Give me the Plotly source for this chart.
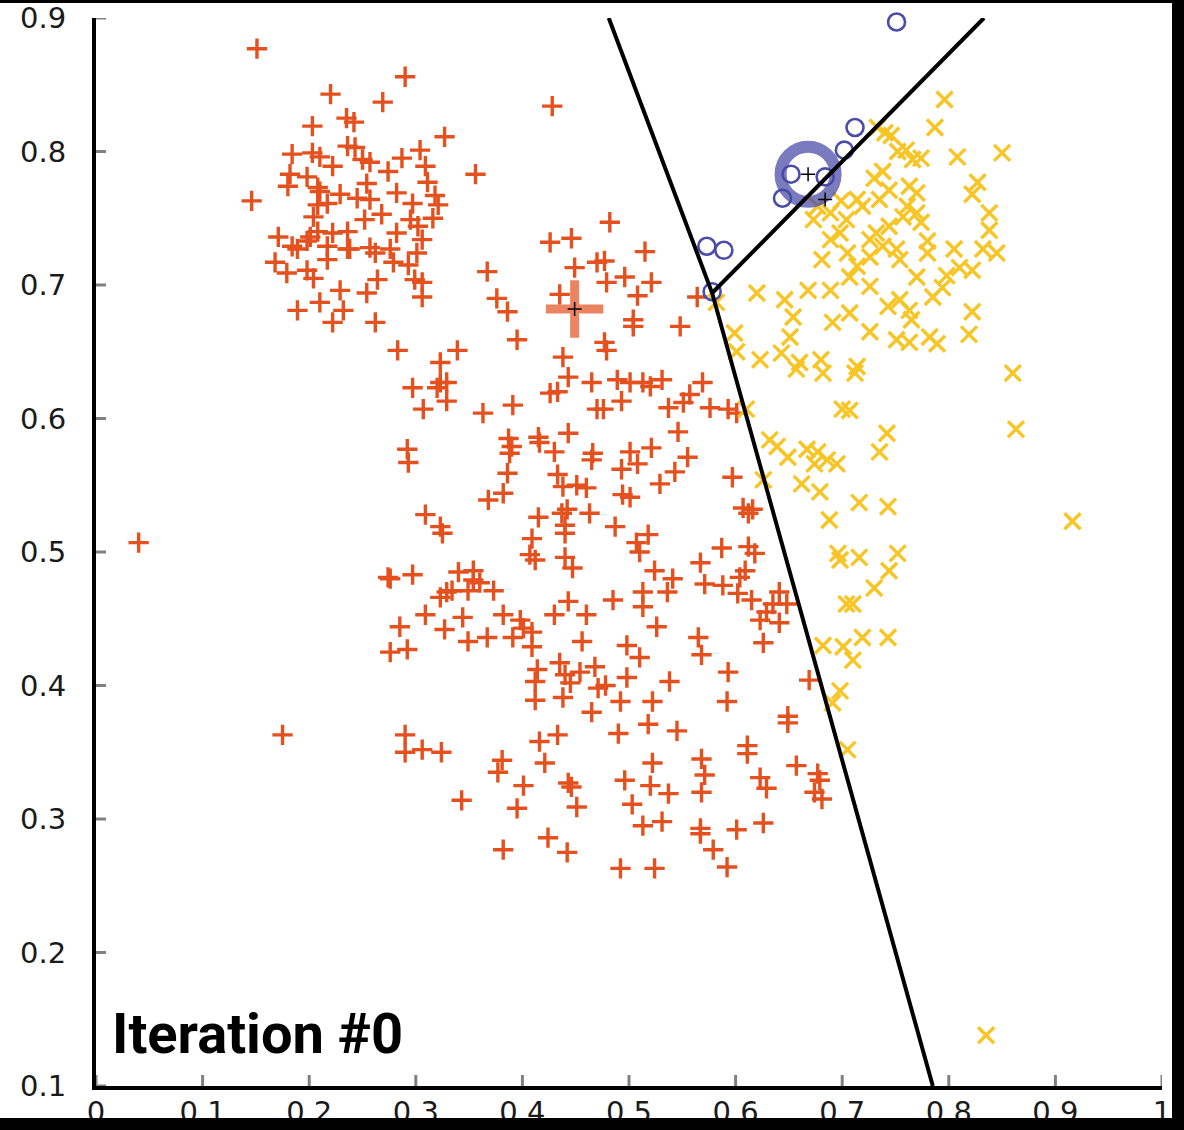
import plotly.graph_objects as go

# ---------------- data ----------------
orange_points = [
    (0.151,0.877),(0.220,0.843),(0.235,0.825),(0.203,0.819),(0.184,0.798),(0.203,0.799),(0.210,0.796),(0.222,0.789),(0.236,0.804),(0.182,0.783),
    (0.180,0.774),(0.198,0.781),(0.208,0.773),(0.210,0.770),(0.229,0.768),(0.146,0.763),(0.204,0.751),(0.208,0.760),(0.217,0.761),(0.208,0.740),
    (0.201,0.736),(0.222,0.739),(0.236,0.740),(0.171,0.736),(0.184,0.729),(0.189,0.727),(0.198,0.733),(0.217,0.729),(0.217,0.719),(0.236,0.727),
    (0.168,0.717),(0.179,0.709),(0.198,0.711),(0.204,0.705),(0.229,0.696),(0.210,0.687),(0.232,0.681),(0.189,0.681),(0.222,0.672),
    (0.290,0.856),(0.269,0.837),(0.242,0.822),(0.327,0.811),(0.356,0.783),(0.428,0.834),(0.243,0.803),(0.250,0.794),(0.257,0.792),(0.274,0.785),
    (0.287,0.795),(0.304,0.801),(0.309,0.789),(0.311,0.777),(0.254,0.776),(0.245,0.765),(0.257,0.764),(0.282,0.769),(0.297,0.761),(0.318,0.767),
    (0.321,0.760),(0.268,0.753),(0.252,0.749),(0.295,0.749),(0.316,0.750),(0.282,0.739),(0.302,0.744),(0.306,0.734),(0.238,0.727),(0.257,0.728),
    (0.262,0.724),(0.276,0.727),(0.279,0.717),(0.301,0.724),(0.293,0.715),(0.299,0.704),(0.306,0.702),(0.264,0.704),(0.254,0.694),(0.306,0.691),
    (0.262,0.672),(0.283,0.651),(0.339,0.651),(0.323,0.642),(0.367,0.710),(0.376,0.690),(0.386,0.680),(0.395,0.659),(0.426,0.732),(0.446,0.735),
    (0.449,0.713),(0.470,0.717),(0.435,0.693),(0.438,0.646),
    (0.482,0.747),(0.515,0.725),(0.477,0.718),(0.496,0.706),(0.479,0.702),(0.521,0.702),(0.508,0.692),(0.564,0.691),(0.504,0.674),(0.504,0.669),
    (0.548,0.669),(0.477,0.657),(0.479,0.651),
    (0.489,0.629),(0.501,0.627),(0.513,0.627),(0.520,0.624),(0.531,0.629),(0.569,0.627),(0.493,0.613),(0.476,0.607),(0.537,0.608),(0.551,0.612),
    (0.557,0.618),(0.576,0.608),(0.593,0.607),(0.601,0.604),(0.546,0.590),(0.501,0.575),(0.521,0.578),(0.555,0.571),(0.508,0.566),(0.493,0.562),
    (0.543,0.560),(0.529,0.551),(0.597,0.556),(0.494,0.543),(0.501,0.541),(0.607,0.533),(0.616,0.532),(0.612,0.529),(0.487,0.519),(0.518,0.513),
    (0.507,0.507),(0.510,0.500),(0.587,0.503),(0.612,0.504),(0.618,0.499),(0.567,0.492),(0.524,0.486),(0.541,0.480),(0.609,0.486),(0.604,0.481),
    (0.571,0.476),(0.588,0.475),(0.513,0.470),(0.536,0.470),(0.602,0.469),(0.615,0.464),(0.485,0.464),(0.513,0.459),(0.641,0.470),(0.635,0.461),
    (0.648,0.461),(0.629,0.455),(0.641,0.447),(0.623,0.449),(0.526,0.444),(0.626,0.432),(0.565,0.436),(0.568,0.423),(0.498,0.430),(0.510,0.421),
    (0.593,0.410),(0.538,0.403),(0.498,0.406),(0.478,0.400),(0.669,0.404),(0.522,0.388),(0.492,0.388),(0.592,0.388),(0.649,0.377),
    (0.297,0.623),(0.323,0.627),(0.329,0.627),(0.320,0.623),(0.329,0.613),(0.307,0.607),(0.363,0.604),(0.391,0.610),(0.426,0.619),(0.433,0.620),
    (0.443,0.631),(0.465,0.627),(0.470,0.607),(0.292,0.577),(0.293,0.567),(0.387,0.585),(0.390,0.579),(0.388,0.574),(0.415,0.586),(0.416,0.582),
    (0.443,0.589),(0.430,0.575),(0.466,0.574),(0.465,0.569),(0.386,0.559),(0.382,0.544),(0.368,0.539),(0.433,0.558),(0.438,0.549),(0.451,0.550),
    (0.460,0.548),(0.309,0.528),(0.323,0.519),(0.325,0.514),(0.415,0.526),(0.437,0.529),(0.442,0.532),(0.440,0.520),(0.463,0.529),(0.440,0.514),
    (0.409,0.510),(0.407,0.498),(0.412,0.494),(0.440,0.496),(0.447,0.488),(0.274,0.481),(0.276,0.480),(0.297,0.483),(0.340,0.485),(0.354,0.486),
    (0.354,0.479),(0.360,0.477),(0.329,0.470),(0.323,0.466),(0.334,0.471),(0.349,0.471),(0.373,0.471),(0.309,0.453),(0.344,0.451),(0.382,0.453),
    (0.398,0.449),(0.401,0.443),(0.409,0.440),(0.285,0.444),(0.327,0.442),(0.349,0.433),(0.367,0.436),(0.391,0.436),(0.409,0.429),(0.276,0.425),
    (0.292,0.427),(0.443,0.463),(0.430,0.453),(0.460,0.453),(0.456,0.433),(0.414,0.412),(0.435,0.417),(0.440,0.408),(0.454,0.410),(0.468,0.414),
    (0.412,0.403),(0.445,0.402),(0.471,0.398),(0.412,0.389),(0.438,0.391),(0.465,0.380),
    (0.290,0.363),(0.290,0.350),(0.306,0.352),(0.324,0.350),(0.343,0.314),(0.381,0.344),(0.377,0.335),(0.401,0.325),(0.395,0.308),(0.416,0.358),
    (0.433,0.363),(0.421,0.342),(0.443,0.327),(0.446,0.324),(0.451,0.309),(0.382,0.277),(0.424,0.286),(0.442,0.275),
    (0.490,0.364),(0.518,0.371),(0.545,0.366),(0.649,0.372),(0.522,0.342),(0.568,0.345),(0.571,0.333),(0.496,0.329),(0.520,0.325),(0.537,0.319),
    (0.568,0.320),(0.503,0.311),(0.513,0.295),(0.531,0.298),(0.567,0.293),(0.567,0.289),(0.601,0.292),(0.626,0.297),(0.579,0.277),(0.592,0.264),
    (0.492,0.263),(0.524,0.263),(0.611,0.355),(0.611,0.349),(0.623,0.331),(0.629,0.323),(0.657,0.340),(0.677,0.334),(0.679,0.329),(0.674,0.320),
    (0.681,0.315),
    (0.175,0.363),(0.040,0.507),
]

yellow_points = [
    (0.620,0.694),(0.646,0.689),(0.668,0.696),(0.689,0.696),(0.599,0.664),(0.654,0.676),(0.651,0.661),(0.691,0.672),(0.601,0.650),(0.623,0.644),
    (0.643,0.649),(0.660,0.642),(0.680,0.644),(0.582,0.687),(0.673,0.749),(0.689,0.754),(0.698,0.739),(0.689,0.734),(0.681,0.719),(0.705,0.724),
    (0.677,0.759),(0.699,0.763),(0.704,0.749),
    (0.796,0.839),(0.787,0.818),(0.850,0.799),(0.808,0.796),(0.760,0.801),(0.766,0.794),(0.740,0.814),(0.733,0.818),(0.746,0.812),(0.827,0.777),
    (0.822,0.768),(0.838,0.754),(0.838,0.741),(0.845,0.724),(0.832,0.727),(0.805,0.727),(0.780,0.733),(0.780,0.724),(0.810,0.713),(0.798,0.707),
    (0.822,0.711),(0.763,0.774),(0.770,0.769),(0.744,0.771),(0.730,0.780),(0.738,0.785),(0.714,0.764),(0.719,0.759),(0.735,0.764),(0.761,0.759),
    (0.770,0.754),(0.774,0.747),(0.757,0.751),(0.744,0.744),(0.732,0.739),(0.726,0.734),(0.738,0.729),(0.751,0.727),(0.754,0.719),(0.726,0.721),
    (0.714,0.714),(0.770,0.706),(0.785,0.691),(0.794,0.698),(0.754,0.689),(0.743,0.684),(0.763,0.681),(0.765,0.674),(0.726,0.699),(0.726,0.665),
    (0.751,0.659),(0.763,0.657),(0.782,0.661),(0.789,0.656),(0.822,0.680),(0.819,0.663),(0.707,0.679),(0.707,0.706),(0.860,0.634),(0.714,0.639),
    (0.752,0.800),(0.774,0.795),
    (0.863,0.592),(0.742,0.589),(0.735,0.575),(0.716,0.537),(0.743,0.534),(0.916,0.523),(0.716,0.496),(0.752,0.499),(0.744,0.486),(0.730,0.473),
    (0.710,0.461),(0.719,0.436),(0.743,0.436),(0.710,0.419),(0.707,0.606),(0.712,0.634),
    (0.610,0.607),(0.632,0.584),(0.639,0.579),(0.626,0.554),(0.649,0.571),(0.667,0.577),(0.677,0.575),(0.686,0.569),(0.695,0.566),(0.674,0.566),
    (0.662,0.551),(0.679,0.545),(0.688,0.524),(0.696,0.499),(0.698,0.494),(0.704,0.461),(0.682,0.430),(0.701,0.429),(0.698,0.396),(0.691,0.387),
    (0.657,0.637),(0.682,0.634),(0.700,0.607),
    (0.835,0.138),(0.705,0.352),
]

blue_points = [
    (0.573,0.729),(0.589,0.726),(0.578,0.695),(0.644,0.765),(0.652,0.783),(0.684,0.781),(0.702,0.801),(0.712,0.818),(0.751,0.897),
]

# cluster centres: orange, blue, yellow
centroid_orange = (0.449, 0.682)
centroid_blue = (0.668, 0.783)
centroid_yellow = (0.684, 0.764)

# Voronoi boundaries (None separates segments)
boundary_x = [0.481, 0.578, 0.785, None, 0.578, 0.833]
boundary_y = [0.900, 0.694, 0.100, None, 0.694, 0.900]

x_ticks = [0, 0.1, 0.2, 0.3, 0.4, 0.5, 0.6, 0.7, 0.8, 0.9, 1.0]
x_tick_text = ["0", "0.1", "0.2", "0.3", "0.4", "0.5", "0.6", "0.7", "0.8", "0.9", "1"]
y_ticks = [0.1, 0.2, 0.3, 0.4, 0.5, 0.6, 0.7, 0.8, 0.9]
y_tick_text = ["0.1", "0.2", "0.3", "0.4", "0.5", "0.6", "0.7", "0.8", "0.9"]

title_text = "Iteration #0"

# ---------------- styles ----------------
ORANGE = "#E4501E"
YELLOW = "#F7C525"
BLUE = "#4B4BAA"
TICK_GREY = "#808080"

W, H = 1184, 1130
ML, MR, MT, MB = 96, 22, 18, 44
PW, PH = W - ML - MR, H - MT - MB


def px_x(p):
    return (p - ML) / PW


def px_y(p):
    return (H - MB - p) / PH


fig = go.Figure()

fig.add_trace(go.Scatter(
    x=[p[0] for p in orange_points], y=[p[1] for p in orange_points], mode="markers",
    marker=dict(symbol="cross-thin", size=14.5, color=ORANGE, line=dict(width=3.4, color=ORANGE)),
    hoverinfo="skip", showlegend=False))
fig.add_trace(go.Scatter(
    x=[p[0] for p in yellow_points], y=[p[1] for p in yellow_points], mode="markers",
    marker=dict(symbol="x-thin", size=16, color=YELLOW, line=dict(width=3.4, color=YELLOW)),
    hoverinfo="skip", showlegend=False))
fig.add_trace(go.Scatter(
    x=[p[0] for p in blue_points], y=[p[1] for p in blue_points], mode="markers",
    cliponaxis=False,
    marker=dict(symbol="circle-open", size=17, color=BLUE, line=dict(width=2.6, color=BLUE)),
    hoverinfo="skip", showlegend=False))

# centroids + boundaries (drawn above the points)
fig.add_trace(go.Scatter(
    x=[centroid_orange[0]], y=[centroid_orange[1]], mode="markers",
    marker=dict(symbol="cross-thin", size=41, color="rgba(228,80,30,0.7)",
                line=dict(width=9, color="rgba(228,80,30,0.7)")),
    hoverinfo="skip", showlegend=False))
fig.add_trace(go.Scatter(
    x=[centroid_blue[0]], y=[centroid_blue[1]], mode="markers",
    marker=dict(symbol="circle-open", size=55, color="rgba(70,70,165,0.72)",
                line=dict(width=12, color="rgba(70,70,165,0.72)")),
    hoverinfo="skip", showlegend=False))
fig.add_trace(go.Scatter(
    x=boundary_x, y=boundary_y, mode="lines",
    line=dict(color="black", width=4), hoverinfo="skip", showlegend=False))
fig.add_trace(go.Scatter(
    x=[centroid_orange[0], centroid_blue[0], centroid_yellow[0]],
    y=[centroid_orange[1], centroid_blue[1], centroid_yellow[1]],
    mode="markers",
    marker=dict(symbol="cross-thin", size=10, color="black", line=dict(width=1.5, color="black")),
    hoverinfo="skip", showlegend=False))

tick_font = dict(family="DejaVu Sans", size=29, color="#1a1a1a")
common = dict(showgrid=False, zeroline=False, fixedrange=True, automargin=False)

# tick marks crossing the axis lines, one per tick value
tick_shapes = []
for t in x_ticks:
    tick_shapes.append(dict(type="line", xref="x", yref="y", ysizemode="pixel", yanchor=0.1,
                            x0=t, x1=t, y0=-9, y1=11, layer="above",
                            line=dict(color=TICK_GREY, width=3)))
for t in y_ticks:
    tick_shapes.append(dict(type="line", xref="x", yref="y", xsizemode="pixel", xanchor=0,
                            y0=t, y1=t, x0=-10, x1=10, layer="above",
                            line=dict(color=TICK_GREY, width=3)))

frame_shapes = [
    dict(type="rect", xref="paper", yref="paper", layer="above", line=dict(width=0),
         fillcolor="black", x0=px_x(1172), x1=px_x(1200), y0=px_y(1200), y1=px_y(-20)),
    dict(type="rect", xref="paper", yref="paper", layer="above", line=dict(width=0),
         fillcolor="black", x0=px_x(-20), x1=px_x(1200), y0=px_y(1200), y1=px_y(1118)),
    dict(type="rect", xref="paper", yref="paper", layer="above", line=dict(width=0),
         fillcolor="black", x0=px_x(-20), x1=px_x(1200), y0=px_y(3), y1=px_y(-20)),
]

fig.update_layout(
    width=W, height=H,
    margin=dict(l=ML, r=MR, t=MT, b=MB, pad=0, autoexpand=False),
    paper_bgcolor="white", plot_bgcolor="white",
    xaxis=dict(range=[0, 1], tickvals=x_ticks, ticktext=x_tick_text, ticks="",
               showline=True, linecolor="black", linewidth=4, tickfont=tick_font,
               ticklabelstandoff=-3, **common),
    yaxis=dict(range=[0.1, 0.9], tickvals=y_ticks, ticktext=y_tick_text, ticks="",
               showline=True, linecolor="black", linewidth=4, tickfont=tick_font,
               ticklabelstandoff=20, **common),
    annotations=[dict(
        text=title_text, x=0.0135, y=0.1388, xref="x", yref="y",
        xanchor="left", yanchor="middle", showarrow=False,
        font=dict(family="Roboto", size=56, color="black", weight="bold"))],
    shapes=tick_shapes + frame_shapes,
)

fig.write_html("out.html", config={"displayModeBar": False, "staticPlot": True},
               post_script="document.body.style.margin='0';document.body.style.overflow='hidden';")
